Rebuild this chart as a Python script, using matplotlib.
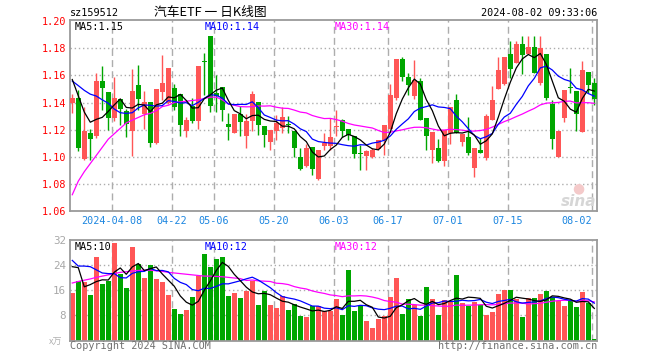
import matplotlib
matplotlib.use('Agg')
import matplotlib.pyplot as plt
import numpy as np

# ---------------- data ----------------
opens = [1.1396, 1.1436, 1.0984, 1.1173, 1.1153, 1.1559, 1.1478, 1.1284, 1.1424, 1.1338,
         1.1192, 1.1529, 1.1318, 1.1404, 1.1099, 1.1480, 1.1399, 1.1507, 1.1463, 1.1192,
         1.1375, 1.1266, 1.1710, 1.1891, 1.1468, 1.1515, 1.1242, 1.1175, 1.1318, 1.1155,
         1.1266, 1.1401, 1.1229, 1.1109, 1.1187, 1.1210, 1.1242, 1.1192, 1.0996, 1.0929,
         1.1072, 1.0836, 1.1082, 1.1082, 1.1217, 1.1269, 1.1205, 1.1151, 1.1025, 1.1003,
         1.0996, 1.1059, 1.1126, 1.1205, 1.1433, 1.1724, 1.1588, 1.1446, 1.1561, 1.1286,
         1.1052, 1.1064, 1.0971, 1.1175, 1.1421, 1.1109, 1.1146, 1.0917, 1.1052, 1.0991,
         1.1274, 1.1500, 1.1539, 1.1758, 1.1692, 1.1832, 1.1758, 1.1807, 1.1544, 1.1758,
         1.1389, 1.0996, 1.1286, 1.1518, 1.1483, 1.1183, 1.1625, 1.1544]
closes = [1.1433, 1.1067, 1.1192, 1.1129, 1.1559, 1.1507, 1.1288, 1.1431, 1.1350, 1.1244,
          1.1485, 1.1424, 1.1404, 1.1104, 1.1498, 1.1547, 1.1655, 1.1369, 1.1234, 1.1271,
          1.1266, 1.1670, 1.1700, 1.1375, 1.1445, 1.1347, 1.1217, 1.1318, 1.1256, 1.1266,
          1.1463, 1.1232, 1.1163, 1.1195, 1.1249, 1.1290, 1.1232, 1.1064, 1.0909, 1.1064,
          1.0909, 1.1047, 1.1101, 1.1146, 1.1229, 1.1192, 1.1158, 1.1023, 1.1021, 1.1040,
          1.1052, 1.1121, 1.1237, 1.1458, 1.1724, 1.1588, 1.1532, 1.1564, 1.1274, 1.1151,
          1.1183, 1.0966, 1.1200, 1.1367, 1.1175, 1.1168, 1.1028, 1.1064, 1.1028, 1.1303,
          1.1421, 1.1643, 1.1734, 1.1647, 1.1832, 1.1753, 1.1807, 1.1618, 1.1800, 1.1433,
          1.1133, 1.1192, 1.1490, 1.1510, 1.1318, 1.1640, 1.1530, 1.1426]
highs = [1.1460, 1.1490, 1.1365, 1.1205, 1.1620, 1.1670, 1.1478, 1.1588, 1.1424, 1.1355,
         1.1645, 1.1677, 1.1485, 1.1404, 1.1500, 1.1750, 1.1655, 1.1537, 1.1463, 1.1291,
         1.1431, 1.1670, 1.1763, 1.1891, 1.1600, 1.1515, 1.1323, 1.1318, 1.1372, 1.1315,
         1.1488, 1.1401, 1.1229, 1.1195, 1.1310, 1.1370, 1.1298, 1.1192, 1.1064, 1.1094,
         1.1072, 1.1047, 1.1175, 1.1286, 1.1347, 1.1278, 1.1205, 1.1151, 1.1089, 1.1052,
         1.1064, 1.1121, 1.1237, 1.1539, 1.1724, 1.1736, 1.1618, 1.1711, 1.1581, 1.1286,
         1.1183, 1.1133, 1.1200, 1.1367, 1.1463, 1.1168, 1.1291, 1.1064, 1.1138, 1.1318,
         1.1520, 1.1734, 1.1734, 1.1852, 1.1857, 1.1889, 1.1889, 1.1889, 1.1889, 1.1758,
         1.1421, 1.1192, 1.1490, 1.1655, 1.1483, 1.1709, 1.1625, 1.1581]
lows = [1.1320, 1.1045, 1.0976, 1.0976, 1.1140, 1.1345, 1.1197, 1.1266, 1.1234, 1.1143,
        1.1005, 1.1345, 1.1203, 1.1074, 1.1095, 1.1419, 1.1390, 1.1345, 1.1153, 1.1148,
        1.1247, 1.1205, 1.1456, 1.1332, 1.1332, 1.1266, 1.1126, 1.1175, 1.1155, 1.1064,
        1.1187, 1.1163, 1.1070, 1.1050, 1.1126, 1.1175, 1.1175, 1.0996, 1.0905, 1.0924,
        1.0868, 1.0831, 1.1052, 1.1052, 1.1151, 1.1143, 1.1126, 1.0990, 1.0905, 1.0905,
        1.0991, 1.1052, 1.1015, 1.1205, 1.1421, 1.1561, 1.1458, 1.1429, 1.1274, 1.1047,
        1.0954, 1.0961, 1.0929, 1.1096, 1.1175, 1.1077, 1.1015, 1.0848, 1.1028, 1.0978,
        1.1274, 1.1500, 1.1530, 1.1581, 1.1692, 1.1611, 1.1758, 1.1618, 1.1530, 1.1421,
        1.1060, 1.0996, 1.1256, 1.1470, 1.1187, 1.1183, 1.1470, 1.1384]
volumes = [15.1, 19.1, 18.5, 14.4, 26.7, 17.9, 18.8, 31.0, 21.1, 16.6,
           29.7, 24.2, 19.8, 23.9, 19.5, 18.5, 14.4, 10.1, 8.4, 9.6,
           13.8, 20.4, 27.7, 23.4, 26.1, 26.7, 14.1, 15.0, 13.4, 15.7,
           19.1, 11.2, 15.7, 11.2, 10.4, 14.1, 9.6, 11.5, 7.7, 7.4,
           10.9, 10.9, 9.3, 9.5, 13.2, 8.1, 22.3, 9.3, 11.1, 6.2,
           4.0, 6.8, 7.7, 13.9, 19.9, 8.5, 13.2, 11.3, 7.7, 16.9,
           13.2, 8.1, 12.9, 12.5, 20.7, 11.8, 11.1, 12.2, 11.3, 8.1,
           9.0, 14.7, 16.0, 16.0, 13.2, 7.5, 13.4, 13.4, 14.7, 15.7,
           13.9, 12.6, 10.9, 12.8, 10.6, 15.3, 11.9, 0.45]

# moving-average values at the start of the window (read from the picture,
# they depend on trading days before the first visible candle)
ma5_price_head = [1.1570, 1.1450, 1.1330, 1.1255]
ma10_price_head = [1.1559, 1.1525, 1.1490, 1.1462, 1.1448, 1.1420, 1.1395, 1.1352, 1.1325]
ma30_price_head = [1.0720, 1.0820, 1.0890, 1.0950, 1.1010, 1.1070, 1.1130, 1.1170, 1.1210,
                   1.1250, 1.1270, 1.1290, 1.1310, 1.1320, 1.1340, 1.1370, 1.1380, 1.1400,
                   1.1405, 1.1410, 1.1415, 1.1420, 1.1430, 1.1440, 1.1440, 1.1420, 1.1390,
                   1.1380, 1.1370]
ma5_vol_head = [23.5, 23.2, 17.1, 17.8]
ma10_vol_head = [25.5, 23.7, 23.7, 23.5, 22.5, 21.5, 21.3, 21.3, 20.0]
ma30_vol_head = [18.3, 18.8, 19.2, 19.6, 20.1, 20.5, 20.9, 21.3, 21.7, 21.9,
                 22.1, 22.3, 22.4, 22.4, 22.2, 22.0, 21.7, 21.5, 21.3, 21.1,
                 20.9, 20.7, 20.5, 20.5, 20.4, 20.3, 20.1, 19.9, 19.7]

date_labels = ['2024-04-08', '04-22', '05-06', '05-20', '06-03', '06-17', '07-01', '07-15', '08-02']
date_index = [7, 17, 24, 34, 44, 53, 63, 73, 87]
price_ticks = [1.06, 1.08, 1.10, 1.12, 1.14, 1.16, 1.18, 1.20]
vol_ticks = [8, 16, 24, 32]

symbol = 'sz159512'
title = '汽车ETF 一 日K线图'
timestamp = '2024-08-02 09:33:06'

# ---------------- styling ----------------
W, H = 660, 360
RED = '#FF5656'
GREEN = '#00A600'
FRAME = '#9A9A9A'
GRID = '#ADADAD'
MONO = ['DejaVu Sans Mono']
FS = 7.3


def moving_average(values, window, head):
    v = np.asarray(values, dtype=float)
    body = np.convolve(v, np.ones(window) / window, mode='valid')
    return np.concatenate([np.asarray(head, dtype=float), body])


def rect(l, t, r, b):
    return [l / W, 1 - b / H, (r - l) / W, (b - t) / H]


def ftext(x, y, s, **kw):
    fig.text(x / W, 1 - y / H, s, **kw)


fig = plt.figure(figsize=(6.6, 3.6), dpi=100)
fig.patch.set_facecolor('white')

ax1 = fig.add_axes(rect(70, 20, 597, 211))
ax2 = fig.add_axes(rect(70, 240, 597, 340.5))

n = len(closes)
x = np.arange(n)
o = np.array(opens)
c = np.array(closes)
hi = np.array(highs)
lo = np.array(lows)
up = c >= o
colors = np.where(up, RED, GREEN)

xlim = (-0.38, 87.45)
for ax in (ax1, ax2):
    ax.set_xlim(*xlim)
    for s in ax.spines.values():
        s.set_color(FRAME)
        s.set_linewidth(1.3)
    ax.set_xticks([])
    ax.tick_params(axis='y', length=0, pad=3)
    for i in date_index:
        ax.axvline(i - 0.42, color=GRID, lw=1.0, linestyle=(0, (5, 3)), zorder=0)

# price panel
ax1.set_ylim(1.06, 1.2009)
for t in price_ticks[1:-1]:
    ax1.axhline(t, color=GRID, lw=1.0, linestyle=(0, (1, 2)), zorder=0)
ax1.vlines(x, lo, hi, colors=colors, lw=1.0, zorder=2)
bottoms = np.minimum(o, c)
heights = np.maximum(np.abs(c - o), 0.0005)
ax1.bar(x, heights, bottom=bottoms, width=0.82, color=colors, linewidth=0, zorder=3)

ma5 = moving_average(closes, 5, ma5_price_head)
ma10 = moving_average(closes, 10, ma10_price_head)
ma30 = moving_average(closes, 30, ma30_price_head)
ax1.plot(x, ma30, color='#FF00FF', lw=0.9, zorder=4)
ax1.plot(x, ma10, color='#0000FF', lw=0.9, zorder=4)
ax1.plot(x, ma5, color='black', lw=0.9, zorder=4)

ax1.set_yticks(price_ticks)
ax1.set_yticklabels(['%.2f' % t for t in price_ticks], color='#FF0000', fontfamily=MONO, fontsize=FS)

# volume panel
ax2.set_ylim(0, 32)
for t in vol_ticks[:-1]:
    ax2.axhline(t, color=GRID, lw=1.0, linestyle=(0, (1, 2)), zorder=0)
ax2.bar(x, volumes, width=0.82, color=colors, linewidth=0, zorder=2)
v5 = moving_average(volumes, 5, ma5_vol_head)
v10 = moving_average(volumes, 10, ma10_vol_head)
v30 = moving_average(volumes, 30, ma30_vol_head)
ax2.plot(x, v30, color='#FF00FF', lw=0.9, zorder=4)
ax2.plot(x, v10, color='#0000FF', lw=0.9, zorder=4)
ax2.plot(x, v5, color='black', lw=0.9, zorder=4)
ax2.set_yticks(vol_ticks)
ax2.set_yticklabels([str(t) for t in vol_ticks], color='#A8A8A8', fontfamily=MONO, fontsize=FS + 0.5)

# header texts
ftext(70, 13, symbol, fontfamily=MONO, fontsize=FS, color='black', va='center', ha='left')
ftext(210, 12.5, title, fontfamily=['Noto Sans CJK SC', 'DejaVu Sans'], fontsize=9.2, color='black', va='center', ha='center')
ftext(597, 13, timestamp, fontfamily=MONO, fontsize=FS, color='black', va='center', ha='right')

# MA legends
ftext(75, 26.5, 'MA5:%.2f' % ma5[-1], fontfamily=MONO, fontsize=FS, color='black', va='center')
ftext(204.5, 26.5, 'MA10:%.2f' % ma10[-1], fontfamily=MONO, fontsize=FS, color='#0000FF', va='center')
ftext(334.5, 26.5, 'MA30:%.2f' % ma30[-1], fontfamily=MONO, fontsize=FS, color='#FF00FF', va='center')
ftext(75, 246.5, 'MA5:%d' % round(v5[-1]), fontfamily=MONO, fontsize=FS, color='black', va='center')
ftext(204.5, 246.5, 'MA10:%d' % round(v10[-1]), fontfamily=MONO, fontsize=FS, color='#0000FF', va='center')
ftext(334.5, 246.5, 'MA30:%d' % round(v30[-1]), fontfamily=MONO, fontsize=FS, color='#FF00FF', va='center')

# date labels
for lbl, i in zip(date_labels, date_index):
    xp = 72.3 + 6 * i - 2.5
    ha = 'right' if i == date_index[-1] else 'center'
    ftext(xp, 221.5, lbl, fontfamily=MONO, fontsize=FS, color='#1C86E0', va='center', ha=ha)

# unit and footer
ftext(62, 342, 'x万', fontfamily=['Noto Sans CJK SC', 'DejaVu Sans'], fontsize=6.5, color='#B0B0B0', va='center', ha='right', style='italic')
ftext(70, 346, 'Copyright 2024 SINA.COM', fontfamily=MONO, fontsize=FS, color='#707070', va='center', ha='left')
ftext(597, 346, 'http://finance.sina.com.cn', fontfamily=MONO, fontsize=FS, color='#707070', va='center', ha='right')

# sina watermark
ftext(579, 202, 'sina', fontfamily=['DejaVu Sans'], fontsize=11, color='#D6D6D6', va='center', ha='center',
      style='italic', weight='bold')
ftext(578, 188, '●', fontfamily=['DejaVu Sans'], fontsize=10, color='#F4CACA', va='center', ha='center')

fig.savefig('out.png', dpi=100)
